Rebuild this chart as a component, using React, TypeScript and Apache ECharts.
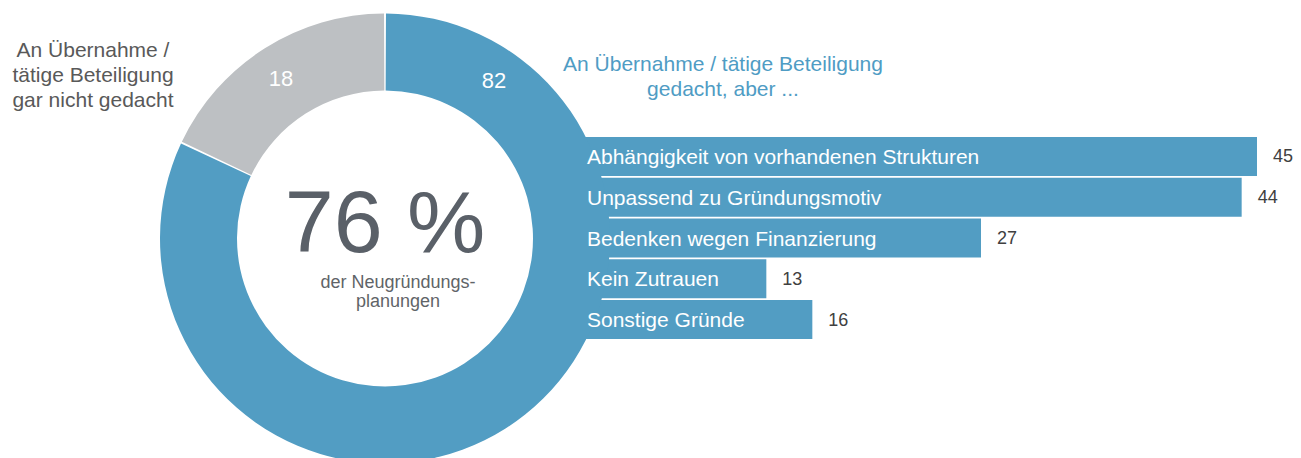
import React, { useEffect, useRef } from "react";
import * as echarts from "echarts";

const pieNames = ["An Übernahme / tätige Beteiligung gedacht, aber ...", "An Übernahme / tätige Beteiligung gar nicht gedacht"];
const pieValues = [82, 18];
const reasonCategories = [
  "Abhängigkeit von vorhandenen Strukturen",
  "Unpassend zu Gründungsmotiv",
  "Bedenken wegen Finanzierung",
  "Kein Zutrauen",
  "Sonstige Gründe",
];
const reasonValues = [45, 44, 27, 13, 16];
const centerValue = "76 %";
const centerCaption = ["der Neugründungs-", "planungen"];
const leftCaption = ["An Übernahme /", "tätige Beteiligung", "gar nicht gedacht"];
const rightCaption = ["An Übernahme / tätige Beteiligung", "gedacht, aber ..."];

const BLUE = "#529dc3";
const GRAY = "#bdc0c3";
const FONT = "'Liberation Sans', Arial, sans-serif";

export default function App() {
  const ref = useRef<HTMLDivElement>(null);
  useEffect(() => {
    document.body.style.margin = "0";
    const chart = echarts.init(ref.current!, null, { renderer: "svg" });
    chart.setOption({
      animation: false,
      textStyle: { fontFamily: FONT },
      grid: { left: 567, top: 136, width: 690, height: 204, containLabel: false },
      xAxis: { type: "value", min: 0, max: 45, show: false },
      yAxis: {
        type: "category",
        data: reasonCategories,
        inverse: true,
        z: 10,
        axisLine: { show: false },
        axisTick: { show: false },
        splitLine: { show: false },
        axisLabel: {
          inside: true,
          margin: 20,
          color: "#ffffff",
          fontSize: 21,
          fontFamily: FONT,
        },
      },
      series: [
        {
          type: "bar",
          z: 1,
          data: reasonValues,
          barWidth: 39,
          itemStyle: { color: BLUE },
          label: {
            show: true,
            position: "right",
            distance: 16,
            color: "#404040",
            fontSize: 18,
            fontFamily: FONT,
          },
        },
        {
          type: "pie",
          z: 3,
          center: [385, 238.5],
          radius: [148, 225],
          startAngle: 90,
          clockwise: true,
          padAngle: 0.5,
          silent: true,
          label: { show: false },
          labelLine: { show: false },
          itemStyle: { borderWidth: 0 },
          data: [
            { name: pieNames[0], value: pieValues[0], itemStyle: { color: BLUE } },
            { name: pieNames[1], value: pieValues[1], itemStyle: { color: GRAY } },
          ],
        },
      ],
      graphic: [
        {
          type: "text",
          z: 20,
          style: { text: String(pieValues[0]), x: 494, y: 80, textAlign: "center", verticalAlign: "middle", fill: "#ffffff", font: `22px ${FONT}` },
        },
        {
          type: "text",
          z: 20,
          style: { text: String(pieValues[1]), x: 281, y: 78, textAlign: "center", verticalAlign: "middle", fill: "#ffffff", font: `22px ${FONT}` },
        },
        {
          type: "text",
          z: 20,
          style: { text: centerValue, x: 385, y: 221, textAlign: "center", verticalAlign: "middle", fill: "#5a6068", font: `88px ${FONT}` },
        },
        {
          type: "text",
          z: 20,
          style: { text: centerCaption.join("\n"), x: 398, y: 291, textAlign: "center", verticalAlign: "middle", lineHeight: 19, fill: "#5f6468", font: `18px ${FONT}` },
        },
        {
          type: "text",
          z: 20,
          style: { text: leftCaption.join("\n"), x: 93, y: 74, textAlign: "center", verticalAlign: "middle", lineHeight: 25, fill: "#595959", font: `21px ${FONT}` },
        },
        {
          type: "text",
          z: 20,
          style: { text: rightCaption.join("\n"), x: 723, y: 76, textAlign: "center", verticalAlign: "middle", lineHeight: 25, fill: "#4f9cc4", font: `21px ${FONT}` },
        },
      ],
    });
    return () => chart.dispose();
  }, []);
  return <div ref={ref} style={{ width: 1301, height: 458, overflow: "hidden" }} />;
}
